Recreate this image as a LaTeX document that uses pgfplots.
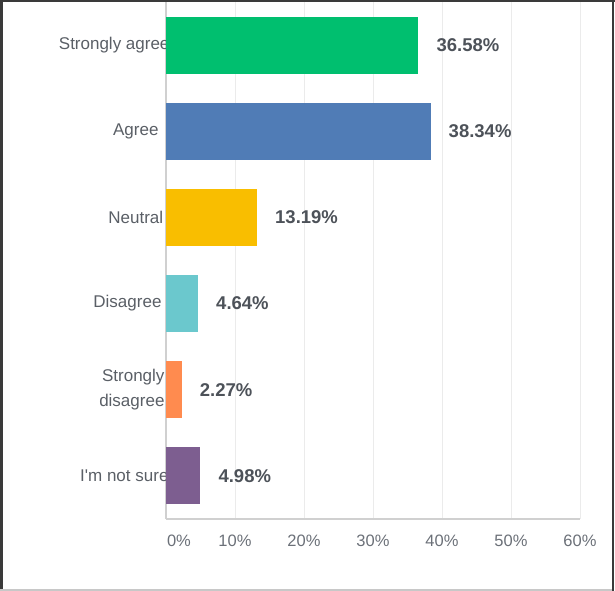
\documentclass[border=0pt]{standalone}
\usepackage{pgfplots}
\pgfplotsset{compat=1.18}
\usepackage{fontspec}
\setmainfont{Liberation Sans}
\definecolor{cgreen}{HTML}{00BF6F}
\definecolor{cblue}{HTML}{507CB6}
\definecolor{cyellow}{HTML}{F9BE00}
\definecolor{cteal}{HTML}{6BC8CD}
\definecolor{corange}{HTML}{FF8B4F}
\definecolor{cpurple}{HTML}{7D5E90}
\definecolor{labelgray}{HTML}{5A5F66}
\definecolor{tickgray}{HTML}{6B7078}
\definecolor{valgray}{HTML}{4D5259}
\definecolor{gridgray}{HTML}{EBEBEB}
\definecolor{axisgray}{HTML}{D0D0D0}
\definecolor{borderdark}{HTML}{3A3A3A}
\definecolor{borderlight}{HTML}{C8C8C8}
\begin{document}
\begin{tikzpicture}
\path[use as bounding box] (0bp,0bp) rectangle (615bp,-591bp);
\begin{axis}[
  at={(166bp,-519bp)}, anchor=south west,
  scale only axis, width=414bp, height=517bp,
  xmin=0, xmax=60, ymin=0.5, ymax=6.5, y dir=reverse,
  xbar, bar width=0.66, bar shift=0pt,
  xtick={0,10,20,30,40,50,60},
  xticklabels={{\makebox[0pt][l]{\hspace{1bp}0\%}},10\%,20\%,30\%,40\%,50\%,60\%},
  xticklabel style={font=\fontsize{16.5bp}{19bp}\selectfont, text=tickgray, yshift=-12bp},
  ytick={1,2,3,4,5,6},
  yticklabels={Strongly agree\kern-7bp, Agree\kern4bp, Neutral\kern-0.7bp, Disagree\kern1bp, {Strongly\kern-2bp\\disagree\kern-2bp}, I\textquotesingle m not sure\kern-6bp},
  yticklabel style={align=right, font=\fontsize{17bp}{25bp}\selectfont, text=labelgray, xshift=0bp},
  xmajorgrids, grid style={gridgray, line width=1bp},
  axis x line*=bottom, axis y line*=left,
  axis line style={-, axisgray, line width=1.5bp},
  major tick length=0pt,
  /pgf/number format/assume math mode=true,
  nodes near coords={\pgfmathprintnumber[fixed,fixed zerofill,precision=2]{\pgfplotspointmeta}\%},
  point meta=x,
  every node near coord/.append style={anchor=west, xshift=18bp, inner sep=0pt, font=\bfseries\fontsize{18.5bp}{20bp}\selectfont, text=valgray},
]
\addplot[fill=cgreen, draw=none] coordinates {(36.58,1)};
\addplot[fill=cblue, draw=none] coordinates {(38.34,2)};
\addplot[fill=cyellow, draw=none] coordinates {(13.19,3)};
\addplot[fill=cteal, draw=none] coordinates {(4.64,4)};
\addplot[fill=corange, draw=none] coordinates {(2.27,5)};
\addplot[fill=cpurple, draw=none] coordinates {(4.98,6)};
\end{axis}
\draw[borderdark, line width=2.5bp] (1.25bp,0bp) -- (1.25bp,-591bp);
\draw[borderdark, line width=1.5bp] (0bp,-0.75bp) -- (615bp,-0.75bp);
\draw[borderdark, line width=2bp] (613bp,0bp) -- (613bp,-591bp);
\draw[borderlight, line width=1.5bp] (0bp,-590bp) -- (612bp,-590bp);
\end{tikzpicture}
\end{document}
